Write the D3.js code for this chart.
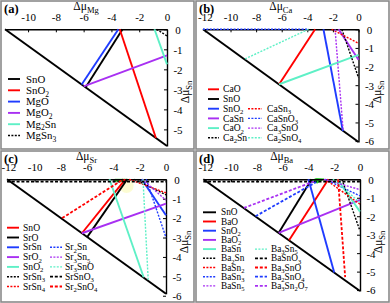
<!DOCTYPE html>
<html lang="en">
<head>
<meta charset="UTF-8" />
<title>Chemical potential maps</title>
<style>
  body { margin: 0; background: #fff; }
  svg { display: block; }
  text { font-family: "Liberation Serif", "Times New Roman", serif; fill: #000; }
</style>
</head>
<body>
<svg id="svg" width="390" height="303"></svg>
<script src="https://d3js.org/d3.v7.min.js"></script>
<script>
// ---- data ----
const panelLetters = ["(a)", "(b)", "(c)", "(d)"];
const hostElements = ["Mg", "Ca", "Sr", "Ba"];
const xTicks = [
  [-10, -8, -6, -4, -2, 0],
  [-12, -10, -8, -6, -4, -2, 0],
  [-12, -10, -8, -6, -4, -2, 0],
  [-12, -10, -8, -6, -4, -2, 0]
];
const yTicks = [
  [0, -1, -2, -3, -4, -5],
  [0, -1, -2, -3, -4, -5, -6],
  [0, -1, -2, -3, -4, -5, -6],
  [0, -1, -2, -3, -4, -5, -6]
];
const xMins = [-11.66, -12.15, -12.1, -12.15];
const yMins = [-5.83, -6.05, -5.9, -6.05];

// (a) Mg
const namesA = ["SnO", "SnO2", "MgO", "MgO2", "Mg2Sn", "MgSn3"];
const linesA = [
  [[-3.2, 0], [-5.85, -2.9]],
  [[-3.4, 0], [-0.8, -5.43]],
  [[-3.5, 0], [-6.14, -2.76]],
  [[-6.0, -2.85], [0, -1.3]],
  [[-0.9, 0], [0, -1.75]],
  [[-0.75, 0], [0, -0.33]]
];
const stylesA = ["k", "r", "b", "p", "c", "k:"];

// (b) Ca
const namesB = ["CaO", "SnO", "SnO2", "CaSn", "CaO2", "Ca2Sn", "CaSn3", "CaSnO3", "Ca3SnO", "Ca2SnO4"];
const linesB = [
  [[-3.39, 0], [-6.2, -2.95]],
  [],
  [[-2.74, 0], [-1.22, -5.47]],
  [[-1.56, 0], [0, -1.64]],
  [[-6.2, -2.95], [0, -1.37]],
  [[-1.3, 0], [0, -2.6]],
  [[-2.1, 0], [0, -0.75]],
  [[-12.15, 0], [-3.9, 0]],
  [[-1.83, 0], [-1.2, -5.45]],
  [[-3.91, 0], [-8.9, -1.6]]
];
const stylesB = ["r", "k", "b", "p", "c", "k:", "r:", "b:", "p:", "c:"];

// (c) Sr
const namesC = ["SnO", "SrO", "SrSn", "SrO2", "SnO2", "SrSn3", "SrSn4", "Sr2Sn", "Sr3Sn5", "Sr3SnO", "SrSnO3", "Sr2SnO4"];
const linesC = [
  [[-3.1, 0], [-6.4, -2.78]],
  [[-2.95, 0], [-6.0, -2.98]],
  [[-1.85, 0], [0, -1.85]],
  [[-6.4, -2.78], [0, -1.25]],
  [[-4.3, 0], [-1.7, -5.05]],
  [[-2.4, 0], [0, -0.8]],
  [[-2.8, 0], [0, -0.7]],
  [[-1.5, 0], [0, -3.0]],
  [[-1.8, 0], [0, -1.08]],
  [[-1.75, 0], [-1.35, -5.25]],
  [[-12.1, -0.12], [0, -0.12]],
  [[-7.9, -2.0], [-3.25, 0]]
];
const stylesC = ["r", "k", "b", "p", "c", "k:", "r:", "b:", "p:", "c:", "k-", "r-"];
const stableC = [[-3.9, 0], [-2.95, 0], [-3.2, -0.12], [-3.9, -0.1]];

// (d) Ba
const namesD = ["SnO", "BaO", "SnO2", "BaO2", "BaSn", "Ba2Sn", "BaSn2", "BaSn3", "BaSn5",
                "Ba3Sn5", "BaSnO3", "Ba3SnO", "Ba2SnO4", "Ba3Sn2O7"];
const linesD = [
  [[-3.75, 0], [-6.3, -2.9]],
  [[-2.45, 0], [-5.5, -3.3]],
  [[-4.0, 0], [-2.0, -5.05]],
  [[-6.3, -2.9], [0, -1.12]],
  [[-1.75, 0], [0, -1.75]],
  [[-1.4, 0], [0, -2.8]],
  [[-2.7, 0], [0, -1.35]],
  [[-2.7, 0], [0, -0.9]],
  [[-2.8, 0], [0, -0.56]],
  [[-2.1, 0], [0, -1.26]],
  [[-12.15, -0.13], [0, -0.13]],
  [[-1.7, 0], [-1.15, -5.3]],
  [[-8.1, -2.0], [-3.4, -0.15]],
  [[-9.0, -1.55], [-3.5, -0.1]]
];
const stylesD = ["k", "r", "b", "p", "c", "k:", "r:", "b:", "p:", "c:", "k-", "r-", "b-", "p-"];
const stableD = [[-3.95, -0.12], [-3.4, 0.04], [-2.8, 0.02], [-3.3, -0.2]];

// ---- drawing ----
const colorOf = { k: "#000000", r: "#ff0000", b: "#1f3cff", p: "#a830f2", c: "#5ef0c6" };
function strokeStyle(sel, code) {
  const c = colorOf[code[0]];
  const kind = code[1] || "";
  sel.attr("stroke", c).attr("fill", "none")
    .attr("stroke-width", kind === "" ? 1.9 : kind === "-" ? 1.8 : 1.4)
    .attr("stroke-dasharray", kind === ":" ? "2,1.4" : kind === "-" ? "3,1.8" : null);
}

// text with numeric subscripts
function formula(sel, str, size) {
  const parts = str.split(/(\d+)/).filter(s => s.length);
  let low = false;
  parts.forEach(p => {
    const isNum = /^\d+$/.test(p);
    const t = sel.append("tspan").text(p);
    if (isNum && !low) { t.attr("dy", size * 0.25).attr("font-size", size * 0.7); low = true; }
    else if (!isNum && low) { t.attr("dy", -size * 0.25); low = false; }
    else if (isNum) t.attr("font-size", size * 0.7);
  });
}

const svg = d3.select("#svg");
const origins = [[0, 0], [195, 0], [0, 150], [195, 150]];
const plotL = [5, 8, 7, 8.3];
const plotR = [167, 163.5, 166, 165];
const plotB = [146, 142, 143.8, 141];
const plotT = 29.3;

const panels = [
  { names: namesA, lines: linesA, styles: stylesA, stable: null,
    leg: { x1: 8, x2: 20, tx: 26, y0: 79, dy: 11.3, fs: 10.8, col2: 99, c2x1: 0, c2x2: 0, c2tx: 0 } },
  { names: namesB, lines: linesB, styles: stylesB, stable: null,
    leg: { x1: 13, x2: 24, tx: 28, y0: 89.3, dy: 9.7, fs: 9.6, col2: 6, c2x1: 53, c2x2: 67, c2tx: 72, c2row: 2 } },
  { names: namesC, lines: linesC, styles: stylesC, stable: stableC,
    leg: { x1: 7, x2: 19, tx: 23, y0: 77.7, dy: 9.8, fs: 9.6, col2: 7, c2x1: 50, c2x2: 62, c2tx: 65, c2row: 2 } },
  { names: namesD, lines: linesD, styles: stylesD, stable: stableD,
    leg: { x1: 8, x2: 21, tx: 26, y0: 62.3, dy: 9.2, fs: 9.3, col2: 9, c2x1: 60, c2x2: 72, c2tx: 76, c2row: 4 } }
];

panels.forEach((P, i) => {
  const g = svg.append("g").attr("transform", `translate(${origins[i][0]},${origins[i][1]})`);

  // gray panel border
  g.append("rect").attr("x", 1).attr("y", 1).attr("width", 193).attr("height", i < 2 ? 148 : 151)
    .attr("fill", "none").attr("stroke", "#8a8a8a").attr("stroke-width", 1.6);

  const x = d3.scaleLinear().domain([xMins[i], 0]).range([plotL[i], plotR[i]]);
  const y = d3.scaleLinear().domain([yMins[i], 0]).range([plotB[i], plotT]);
  const line = d3.line().x(d => x(d[0])).y(d => y(d[1]));

  // stable region
  if (P.stable) {
    if (i === 2) {
      g.append("circle").attr("cx", x(-3.0)).attr("cy", y(-0.35)).attr("r", 7)
        .attr("fill", "#fbfbc8").attr("opacity", 0.8);
    }
    g.append("path").attr("d", line(P.stable) + "Z").attr("fill", "#1ec81e").attr("stroke", "#1ec81e")
      .attr("stroke-width", 0.8);
  }

  // boundary diagonal
  g.append("path").attr("d", line([[xMins[i], 0], [0, yMins[i]]]))
    .attr("stroke", "#000").attr("stroke-width", 2).attr("fill", "none");

  // axes
  const ax = g.append("g").attr("transform", `translate(0,${plotT})`)
    .call(d3.axisTop(x).tickValues(xTicks[i]).tickSizeInner(-3).tickSizeOuter(0)
      .tickPadding(8.5).tickFormat(d => String(d)));
  const ay = g.append("g").attr("transform", `translate(${plotR[i]},0)`)
    .call(d3.axisRight(y).tickValues(yTicks[i]).tickSizeInner(-3).tickSizeOuter(0)
      .tickPadding(11).tickFormat(d => String(d)));
  [ax, ay].forEach(a => {
    a.select(".domain").attr("stroke", "#000").attr("stroke-width", 1.4);
    a.selectAll(".tick line").attr("stroke", "#000").attr("stroke-width", 1);
    a.selectAll(".tick text").attr("font-family", "Liberation Serif, serif").attr("font-size", 11).attr("fill", "#000");
  });
  ay.selectAll(".tick text").attr("text-anchor", "middle").attr("dy", "0.35em");

  // series
  P.lines.forEach((seg, k) => {
    if (!seg.length) return;
    g.append("path").attr("d", line(seg)).call(strokeStyle, P.styles[k]);
  });

  // axis titles
  const xt = g.append("text").attr("x", (plotL[i] + plotR[i]) / 2).attr("y", 9.5)
    .attr("text-anchor", "middle").attr("font-size", 11.5);
  xt.append("tspan").text("Δμ");
  xt.append("tspan").text(hostElements[i]).attr("font-size", 8.5).attr("dy", 3);

  const yt = g.append("text").attr("transform", `translate(${plotR[i] + 22},${92}) rotate(-90)`)
    .attr("text-anchor", "middle").attr("font-size", 11.5);
  yt.append("tspan").text("Δμ");
  yt.append("tspan").text("Sn").attr("font-size", 8.5).attr("dy", 3);

  // panel letter
  g.append("text").attr("x", 4).attr("y", 12.5).text(panelLetters[i])
    .attr("font-family", "Liberation Sans, Arial, sans-serif").attr("font-weight", "bold").attr("font-size", 12.5);

  // legend
  const L = P.leg;
  P.names.forEach((nm, k) => {
    let x1 = L.x1, x2 = L.x2, tx = L.tx, row = k;
    if (k >= L.col2) { x1 = L.c2x1; x2 = L.c2x2; tx = L.c2tx; row = L.c2row + (k - L.col2); }
    const yy = L.y0 + row * L.dy;
    g.append("line").attr("x1", x1).attr("x2", x2).attr("y1", yy).attr("y2", yy).call(strokeStyle, P.styles[k]);
    const t = g.append("text").attr("x", tx).attr("y", yy + L.fs * 0.33).attr("font-size", L.fs);
    formula(t, nm, L.fs);
  });
});
</script>
</body>
</html>
